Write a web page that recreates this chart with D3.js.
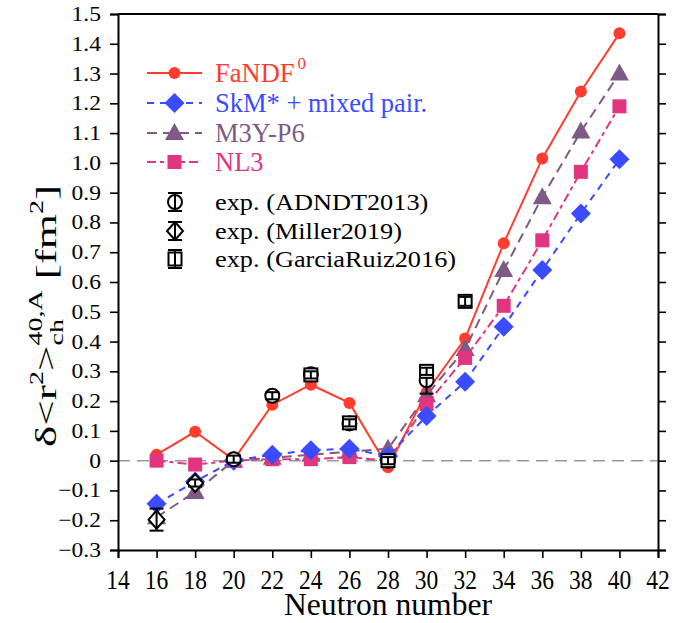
<!DOCTYPE html>
<html>
<head>
<meta charset="utf-8">
<script src="https://cdn.jsdelivr.net/npm/d3@7"></script>
<style>
  body { margin: 0; background: #fff; }
  text { font-family: "Liberation Serif", "Times New Roman", serif; }
</style>
</head>
<body>
<svg id="chart" width="691" height="623"></svg>
<script>
// neutron numbers for the theory curves
var neutrons = [16, 18, 20, 22, 24, 26, 28, 30, 32, 34, 36, 38, 40];
var fandf = [0.02, 0.097, 0.003, 0.188, 0.255, 0.194, -0.022, 0.23, 0.41, 0.73, 1.015, 1.24, 1.435];
var skm   = [-0.145, -0.07, 0.0, 0.02, 0.035, 0.04, 0.015, 0.15, 0.265, 0.45, 0.64, 0.83, 1.012];
var m3y   = [-0.19, -0.105, 0.0, 0.01, 0.02, 0.03, 0.04, 0.22, 0.375, 0.64, 0.885, 1.105, 1.30];
var nl3   = [0.0, -0.013, 0.0, 0.005, 0.005, 0.012, 0.0, 0.19, 0.345, 0.52, 0.74, 0.97, 1.19];

// experimental points
var adndtN = [20, 22, 24, 26, 28, 30];
var adndtV = [0.005, 0.218, 0.29, 0.125, 0.0, 0.27];
var adndtE = [0.012, 0.012, 0.012, 0.012, 0.012, 0.045];
var millerN = [16, 18];
var millerV = [-0.198, -0.075];
var millerE = [0.037, 0.012];
var garciaN = [24, 26, 28, 30, 32];
var garciaV = [0.288, 0.127, 0.0, 0.30, 0.535];
var garciaE = [0.012, 0.012, 0.012, 0.012, 0.015];

var xTicks = d3.range(14, 43, 2);
var yTicks = d3.range(-3, 16).map(function(d) { return d / 10; });

var svg = d3.select('#chart');
var pL = 118, pR = 658, pT = 14, pB = 550;

var x = d3.scaleLinear().domain([14, 42]).range([pL, pR]);
var y = d3.scaleLinear().domain([-0.3, 1.5]).range([pB, pT]);

// text with horizontal stretch, the original figure is a bit squashed
function stext(g, tx, ty, str, size, sx, anchor, color) {
  var t = g.append('text')
    .attr('transform', 'translate(' + tx + ',' + ty + ') scale(' + sx + ',1)')
    .attr('font-size', size)
    .attr('text-anchor', anchor || 'start')
    .attr('fill', color || '#000')
    .text(str);
  return t;
}

// zero line
svg.append('line')
  .attr('x1', pL).attr('x2', pR)
  .attr('y1', y(0)).attr('y2', y(0))
  .attr('stroke', '#999').attr('stroke-width', 1.5)
  .attr('stroke-dasharray', '12,7');

// axes
var xAxis = d3.axisBottom(x).tickValues(xTicks).tickSize(8).tickFormat('');
var yAxis = d3.axisLeft(y).tickValues(yTicks).tickSize(8).tickFormat('');
var yAxisR = d3.axisRight(y).tickValues(yTicks).tickSize(8).tickFormat('');

var gx = svg.append('g').attr('transform', 'translate(0,' + pB + ')').call(xAxis);
var gy = svg.append('g').attr('transform', 'translate(' + pL + ',0)').call(yAxis);
var gr = svg.append('g').attr('transform', 'translate(' + pR + ',0)').call(yAxisR);
svg.append('line').attr('x1', pL).attr('x2', pR).attr('y1', pT).attr('y2', pT)
  .attr('stroke', '#000').attr('stroke-width', 2);
[gx, gy, gr].forEach(function(g) {
  g.select('.domain').attr('stroke', '#000').attr('stroke-width', 2);
  g.selectAll('.tick line').attr('stroke', '#000').attr('stroke-width', 1.6);
});

// tick labels
xTicks.forEach(function(t) {
  stext(svg, x(t), 589, String(t), 28, 0.84, 'middle');
});
yTicks.forEach(function(t) {
  var lab = t === 0 ? '0' : d3.format('.1f')(t);
  stext(svg, 101, y(t) + 7, lab, 21, 1.12, 'end');
});

stext(svg, (pL + pR) / 2, 615, 'Neutron number', 31, 1.02, 'middle');

// y axis title, built from pieces
var yl = svg.append('g').attr('transform', 'translate(56,447) rotate(-90) scale(1.56,1)');
var cx = 0;
function piece(str, size, dy) {
  var t = yl.append('text').attr('x', cx).attr('y', dy).attr('font-size', size).text(str);
  var w = t.node().getComputedTextLength();
  return w;
}
cx += piece('δ<r', 29, 0);
cx += piece('2', 18, -13);
cx += piece('>', 29, 0);
var w1 = piece('40,A', 18, -14);
var w2 = piece('ch', 18, 7);
cx += Math.max(w1, w2) + 7;
cx += piece('[fm', 29, 0);
cx += piece('2', 18, -13);
cx += piece(']', 29, 0);

// theory series
var series = [
  { name: 'FaNDF', vals: fandf, color: '#ff3d2e', dash: null, shape: 'circle' },
  { name: 'M3Y-P6', vals: m3y, color: '#7f5a86', dash: '10,6', shape: 'triangle' },
  { name: 'NL3', vals: nl3, color: '#e2357f', dash: '9,4,4,4', shape: 'square' },
  { name: 'SkM* + mixed pair.', vals: skm, color: '#3b4bff', dash: '7,6', shape: 'diamond' }
];

var line = d3.line().x(function(d) { return x(d[0]); }).y(function(d) { return y(d[1]); });

function marker(g, shape, px, py, color) {
  if (shape === 'circle') {
    g.append('circle').attr('cx', px).attr('cy', py).attr('r', 6).attr('fill', color);
  } else if (shape === 'square') {
    g.append('rect').attr('x', px - 7).attr('y', py - 7).attr('width', 14).attr('height', 14).attr('fill', color);
  } else if (shape === 'diamond') {
    g.append('path').attr('d', 'M' + px + ',' + (py - 10) + 'L' + (px + 10) + ',' + py + 'L' + px + ',' + (py + 10) + 'L' + (px - 10) + ',' + py + 'Z')
      .attr('fill', color);
  } else if (shape === 'triangle') {
    g.append('path').attr('d', 'M' + px + ',' + (py - 10) + 'L' + (px + 9.5) + ',' + (py + 7) + 'L' + (px - 9.5) + ',' + (py + 7) + 'Z')
      .attr('fill', color);
  }
}

series.forEach(function(s) {
  var pts = neutrons.map(function(n, i) { return [n, s.vals[i]]; });
  var g = svg.append('g');
  g.append('path').datum(pts).attr('d', line)
    .attr('fill', 'none').attr('stroke', s.color).attr('stroke-width', 2)
    .attr('stroke-dasharray', s.dash);
  pts.forEach(function(p) { marker(g, s.shape, x(p[0]), y(p[1]), s.color); });
});

// experimental points with error bars
function expMark(g, shape, px, py) {
  if (shape === 'circle') {
    g.append('circle').attr('cx', px).attr('cy', py).attr('r', 7)
      .attr('fill', '#fff').attr('stroke', '#000').attr('stroke-width', 2);
  } else if (shape === 'square') {
    g.append('rect').attr('x', px - 6.5).attr('y', py - 6.5).attr('width', 13).attr('height', 13)
      .attr('fill', '#fff').attr('stroke', '#000').attr('stroke-width', 2);
  } else {
    g.append('path').attr('d', 'M' + px + ',' + (py - 9) + 'L' + (px + 8) + ',' + py + 'L' + px + ',' + (py + 9) + 'L' + (px - 8) + ',' + py + 'Z')
      .attr('fill', '#fff').attr('stroke', '#000').attr('stroke-width', 2);
  }
}
function errBar(g, px, y1, y2) {
  g.append('line').attr('x1', px).attr('x2', px).attr('y1', y1).attr('y2', y2)
    .attr('stroke', '#000').attr('stroke-width', 2);
  [y1, y2].forEach(function(yy) {
    g.append('line').attr('x1', px - 7).attr('x2', px + 7).attr('y1', yy).attr('y2', yy)
      .attr('stroke', '#000').attr('stroke-width', 2);
  });
}
var expSets = [
  { n: adndtN, v: adndtV, e: adndtE, shape: 'circle' },
  { n: millerN, v: millerV, e: millerE, shape: 'diamond' },
  { n: garciaN, v: garciaV, e: garciaE, shape: 'square' }
];
var ge = svg.append('g');
expSets.forEach(function(s) {
  s.n.forEach(function(n, i) {
    var px = x(n), py = y(s.v[i]);
    expMark(ge, s.shape, px, py);
    errBar(ge, px, y(s.v[i] + s.e[i]), y(s.v[i] - s.e[i]));
  });
});

// legend
var lg = svg.append('g');
var legOrder = [series[0], series[3], series[1], series[2]];
var legY = [73, 103, 133, 162];
legOrder.forEach(function(s, i) {
  var ly = legY[i];
  lg.append('line').attr('x1', 147).attr('x2', 202).attr('y1', ly).attr('y2', ly)
    .attr('stroke', s.color).attr('stroke-width', 2).attr('stroke-dasharray', s.dash);
  marker(lg, s.shape, 174.5, ly, s.color);
  var t = stext(lg, 215, ly + 9, s.name, 26.5, 1.0, 'start', s.color);
  if (i === 0) {
    var w = t.node().getComputedTextLength();
    stext(lg, 215 + w + 3, ly - 4, '0', 17, 1.0, 'start', s.color);
  }
});
var expLeg = [
  { label: 'exp. (ADNDT2013)', shape: 'circle', y: 202 },
  { label: 'exp. (Miller2019)', shape: 'diamond', y: 231 },
  { label: 'exp. (GarciaRuiz2016)', shape: 'square', y: 259 }
];
expLeg.forEach(function(d) {
  expMark(lg, d.shape, 175, d.y);
  errBar(lg, 175, d.y - 9, d.y + 9);
  stext(lg, 215, d.y + 8, d.label, 23.5, 1.12, 'start');
});
</script>
</body>
</html>
